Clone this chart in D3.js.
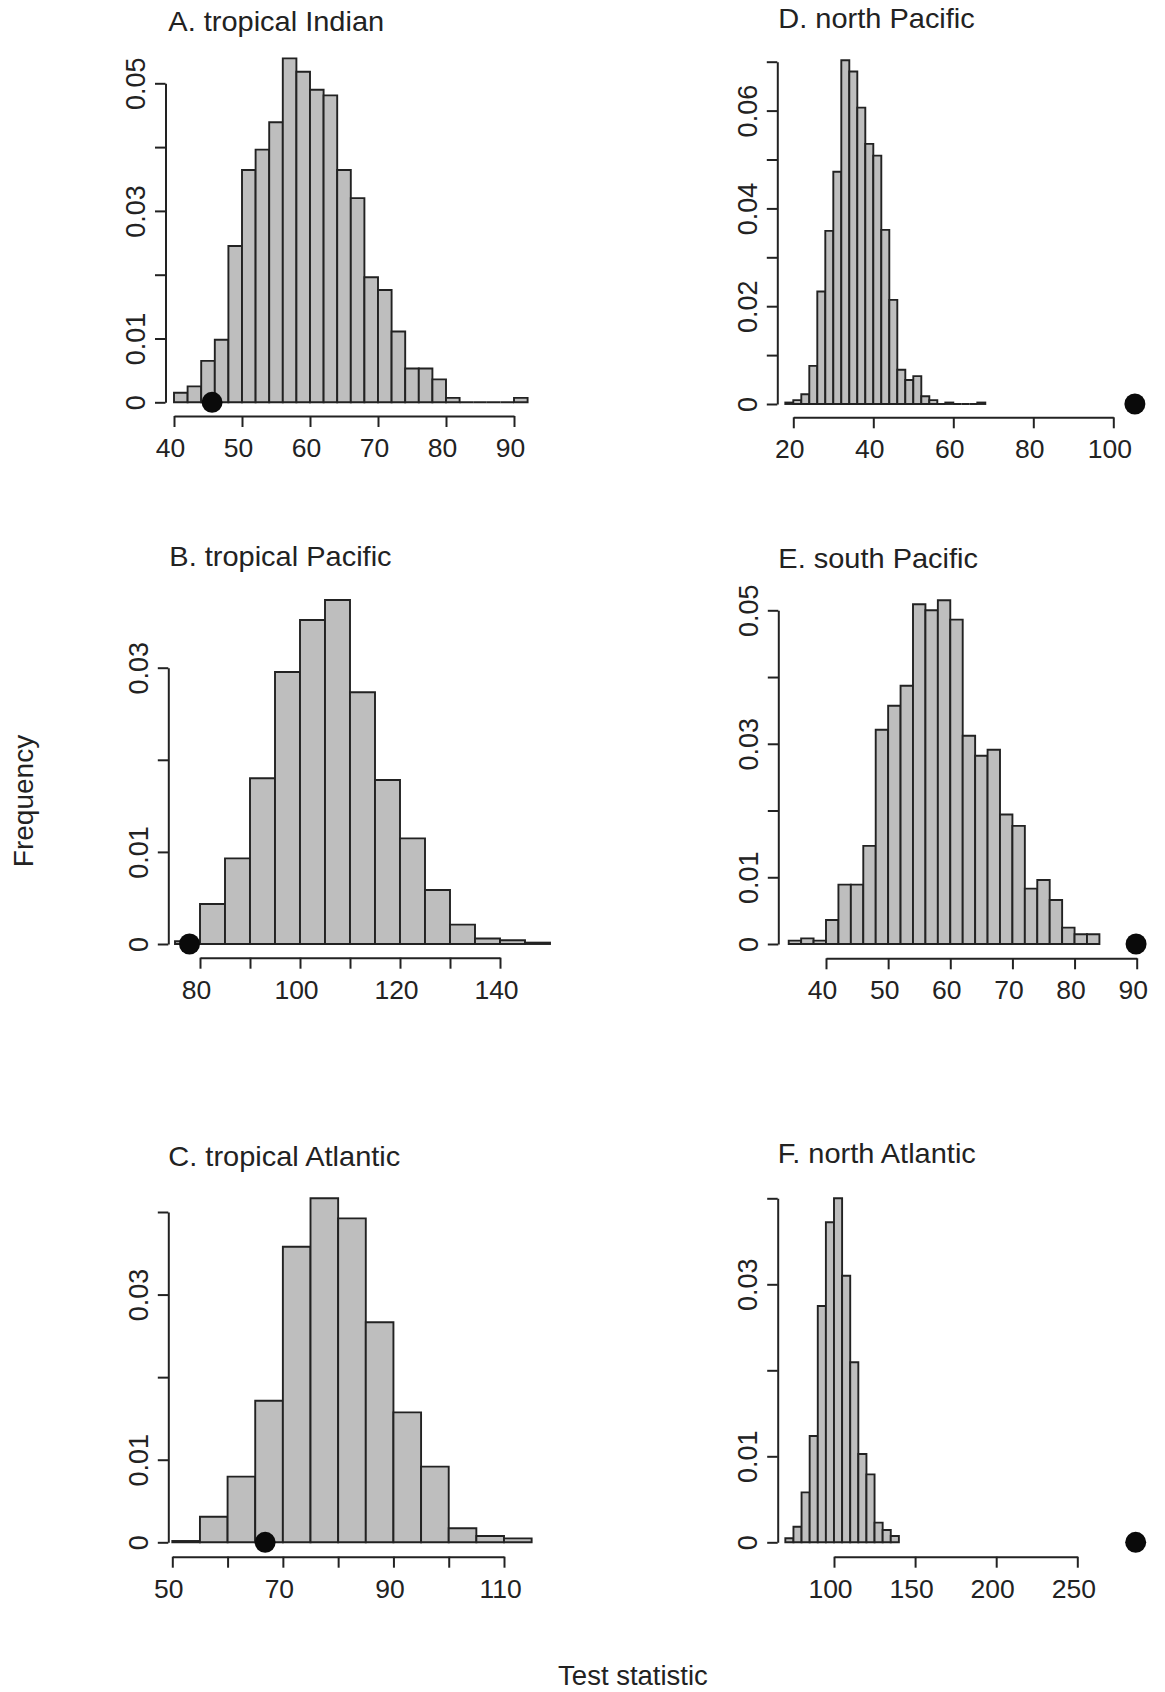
<!DOCTYPE html>
<html>
<head>
<meta charset="utf-8">
<script src="https://cdn.jsdelivr.net/npm/d3@7"></script>
<style>
  body { margin: 0; background: #fff; }
  svg text { font-family: "Liberation Sans", Arial, sans-serif; fill: #222; }
</style>
</head>
<body>
<div id="chart"></div>
<script>
// panel titles (A-C left column, D-F right column)
var titles = ["A. tropical Indian", "B. tropical Pacific", "C. tropical Atlantic",
              "D. north Pacific", "E. south Pacific", "F. north Atlantic"];

// first histogram break and bin width for each panel
var binStart = [40, 75, 50, 18, 34, 70];
var binWidth = [2, 5, 5, 2, 2, 5];

// bar heights (density)
var tropIndian = [0.0015, 0.0025, 0.0065, 0.0098, 0.0245, 0.0364, 0.0396, 0.0439, 0.0539, 0.0518,
                  0.0490, 0.0481, 0.0364, 0.0320, 0.0196, 0.0176, 0.0111, 0.0053, 0.0053, 0.0036,
                  0.0007, 0, 0, 0, 0, 0.0007];
var tropPacific = [0.0003, 0.00434, 0.0093, 0.018, 0.02953, 0.03518, 0.03735, 0.02733, 0.0178,
                   0.01147, 0.00586, 0.0021, 0.0006, 0.0004, 0.00015];
var tropAtlantic = [0.00016, 0.0031, 0.00795, 0.01715, 0.0358, 0.04166, 0.03923, 0.02664, 0.01574,
                    0.00916, 0.0017, 0.00077, 0.00048];
var northPacific = [0.0003, 0.0008, 0.002, 0.0078, 0.023, 0.0354, 0.0475, 0.0703, 0.068, 0.0606,
                    0.0532, 0.0508, 0.0356, 0.0213, 0.007, 0.0049, 0.0057, 0.0016, 0.0008, 0,
                    0.0003, 0, 0, 0, 0.0003];
var southPacific = [0.0005, 0.00085, 0.0005, 0.0036, 0.0089, 0.0089, 0.0147, 0.0321, 0.0357, 0.0387,
                    0.0509, 0.05, 0.0515, 0.0486, 0.0312, 0.0282, 0.0291, 0.0194, 0.0177, 0.0083,
                    0.0096, 0.0066, 0.00245, 0.00145, 0.00145];
var northAtlantic = [0.00047, 0.0018, 0.0058, 0.01236, 0.02748, 0.03721, 0.04, 0.031, 0.02093,
                     0.01027, 0.0079, 0.00229, 0.00143, 0.00074];
var densities = [tropIndian, tropPacific, tropAtlantic, northPacific, southPacific, northAtlantic];

// observed test statistic (black dot)
var observed = [45.6, 77.9, 66.8, 105.4, 89.9, 286];

// ticks and which of them get a label
var xTicks = [[40, 50, 60, 70, 80, 90], [80, 90, 100, 110, 120, 130, 140], [50, 60, 70, 80, 90, 100, 110],
              [20, 40, 60, 80, 100], [40, 50, 60, 70, 80, 90], [100, 150, 200, 250]];
var xLabels = [[40, 50, 60, 70, 80, 90], [80, 100, 120, 140], [50, 70, 90, 110],
               [20, 40, 60, 80, 100], [40, 50, 60, 70, 80, 90], [100, 150, 200, 250]];
var yTicks = [[0, 0.01, 0.02, 0.03, 0.04, 0.05], [0, 0.01, 0.02, 0.03], [0, 0.01, 0.02, 0.03, 0.04],
              [0, 0.01, 0.02, 0.03, 0.04, 0.05, 0.06, 0.07], [0, 0.01, 0.02, 0.03, 0.04, 0.05],
              [0, 0.01, 0.02, 0.03, 0.04]];
var yLabels = [[0, 0.01, 0.03, 0.05], [0, 0.01, 0.03], [0, 0.01, 0.03],
               [0, 0.02, 0.04, 0.06], [0, 0.01, 0.03, 0.05], [0, 0.01, 0.03]];

// pixel layout of each panel
var layout = [
  {xRange: [174, 514],     yRange: [402.3, 83.3],    xAxisAt: 416,   yAxisAt: 165.5, titleX: 168.3, titleY: 30.7},
  {xRange: [200, 500],     yRange: [944, 667.7],     xAxisAt: 957.7, yAxisAt: 168.3, titleX: 169.3, titleY: 566},
  {xRange: [172.3, 504],   yRange: [1542.3, 1212],   xAxisAt: 1556.7, yAxisAt: 168.3, titleX: 168.3, titleY: 1166},
  {xRange: [793.3, 1113.3], yRange: [404, 61.7],     xAxisAt: 417.3, yAxisAt: 777.3, titleX: 778.3, titleY: 28.3},
  {xRange: [826, 1136.7],  yRange: [944, 610.3],     xAxisAt: 958.3, yAxisAt: 778.3, titleX: 778.3, titleY: 568.3},
  {xRange: [834, 1077.3],  yRange: [1542.3, 1198.3], xAxisAt: 1556.7, yAxisAt: 777.7, titleX: 777.7, titleY: 1163.3}
];

var ink = "#222";

var svg = d3.select("#chart")
  .append("svg")
    .attr("width", 1165)
    .attr("height", 1692);

svg.append("rect").attr("width", 1165).attr("height", 1692).style("fill", "#fff");

// widen horizontal text a little, the original is slightly stretched
function stretch(sel, k) {
  sel.each(function() {
    var w = this.getComputedTextLength();
    if (w > 0) d3.select(this).attr("textLength", w * k).attr("lengthAdjust", "spacingAndGlyphs");
  });
}

titles.forEach(function(title, i) {
  var L = layout[i];
  var xt = xTicks[i], yt = yTicks[i];

  var x = d3.scaleLinear()
    .domain([xt[0], xt[xt.length - 1]])
    .range(L.xRange);
  var y = d3.scaleLinear()
    .domain([0, yt[yt.length - 1]])
    .range(L.yRange);

  var g = svg.append("g");

  // histogram bars (zero bins still show as a line on the baseline)
  var bins = densities[i].map(function(d, j) {
    return {x0: binStart[i] + j * binWidth[i], x1: binStart[i] + (j + 1) * binWidth[i], h: d};
  });
  g.selectAll("path.bar")
    .data(bins)
    .enter()
    .append("path")
      .attr("class", "bar")
      .attr("d", function(d) {
        return "M" + x(d.x0) + "," + y(0) + "V" + y(d.h) + "H" + x(d.x1) + "V" + y(0) + "Z";
      })
      .style("fill", "#bebebe")
      .style("stroke", ink)
      .style("stroke-width", 1.9);

  // x axis
  var xAxis = g.append("g")
    .attr("transform", "translate(0," + L.xAxisAt + ")")
    .call(d3.axisBottom(x)
      .tickValues(xt)
      .tickSize(11)
      .tickSizeOuter(0)
      .tickFormat(function(d) { return xLabels[i].indexOf(d) >= 0 ? d : ""; }));
  xAxis.selectAll("text")
    .attr("y", 41)
    .attr("dy", null)
    .attr("dx", -4)
    .style("font-size", "26.5px");

  // y axis with rotated labels
  var yAxis = g.append("g")
    .attr("transform", "translate(" + L.yAxisAt + ",0)")
    .call(d3.axisLeft(y)
      .tickValues(yt)
      .tickSize(10.5)
      .tickSizeOuter(0)
      .tickFormat(function(d) { return yLabels[i].indexOf(d) >= 0 ? String(d) : ""; }));
  yAxis.selectAll("text")
    .attr("x", null)
    .attr("dy", null)
    .attr("text-anchor", "middle")
    .attr("transform", "translate(-20.5,0) rotate(-90)")
    .style("font-size", "27px");

  [xAxis, yAxis].forEach(function(a) {
    a.selectAll("path, line").style("stroke", ink).style("stroke-width", 2);
  });

  // observed value
  g.append("circle")
    .attr("cx", x(observed[i]))
    .attr("cy", y(0))
    .attr("r", 10.5)
    .style("fill", "#0a0a0a");

  g.append("text")
    .attr("x", L.titleX)
    .attr("y", L.titleY)
    .style("font-size", "28px")
    .text(title)
    .call(stretch, 1.035);
});

// shared axis titles
svg.append("text")
  .attr("transform", "translate(33,801) rotate(-90)")
  .attr("text-anchor", "middle")
  .style("font-size", "28px")
  .text("Frequency");

svg.append("text")
  .attr("x", 633)
  .attr("y", 1685)
  .attr("text-anchor", "middle")
  .style("font-size", "27.5px")
  .text("Test statistic");
</script>
</body>
</html>
